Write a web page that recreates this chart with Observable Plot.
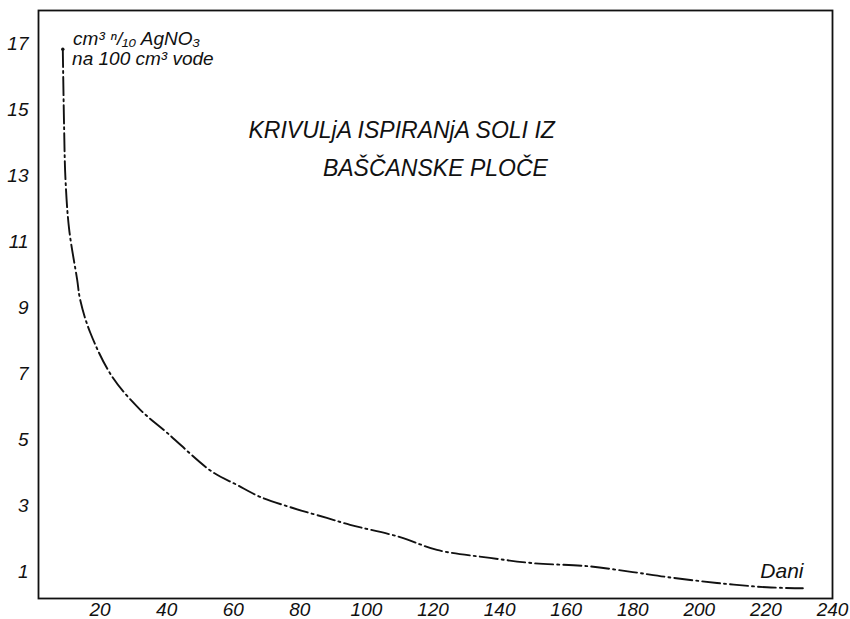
<!DOCTYPE html>
<html><head><meta charset="utf-8">
<script src="https://cdn.jsdelivr.net/npm/d3@7"></script>
<script src="https://cdn.jsdelivr.net/npm/@observablehq/plot@0.6"></script>
<style>body{margin:0;background:#fff} svg{display:block}</style>
</head><body><div id="chart"></div>
<script>
const days   = [8.8, 9.2, 9.6, 10.7, 13.1, 14.0, 17.0, 23.6, 32.0, 40.1, 53.6, 61.1, 68.0, 77.9, 88.1, 95.1, 110.1, 121.2, 137.1, 150.0, 166.2, 180.0, 190.3, 205.3, 220.3, 231.1];
const values = [16.83, 14.42, 12.90, 11.38, 9.86, 9.25, 8.26, 6.92, 5.92, 5.22, 4.04, 3.64, 3.28, 2.94, 2.64, 2.43, 2.06, 1.67, 1.43, 1.27, 1.18, 1.00, 0.85, 0.67, 0.54, 0.51];
const xTicks = [20, 40, 60, 80, 100, 120, 140, 160, 180, 200, 220, 240];
const yTicks = [1, 3, 5, 7, 9, 11, 13, 15, 17];
const titleLines = ["KRIVULjA ISPIRANjA SOLI IZ", "BAŠČANSKE PLOČE"];
const unitLines = ["cm³ ⁿ/₁₀ AgNO₃", "na 100 cm³ vode"];
const xLabel = "Dani";

const data = days.map((d, i) => ({day: d, value: values[i]}));
const font = "'Liberation Sans', 'DejaVu Sans', sans-serif";

const chart = Plot.plot({
  width: 850, height: 619,
  marginLeft: 38, marginRight: 18, marginTop: 10, marginBottom: 21,
  style: {fontFamily: font, fontStyle: "italic", background: "#fff", color: "#111"},
  x: {domain: [1.5, 240]},
  y: {domain: [0.2, 18]},
  marks: [
    Plot.frame({stroke: "#111", strokeWidth: 1.8}),
    Plot.axisX(xTicks, {tickSize: 0, tickPadding: 4, fontSize: 19, label: null}),
    Plot.axisY(yTicks, {tickSize: 0, tickPadding: 10, fontSize: 19, label: null}),
    Plot.line(data, {x: "day", y: "value", curve: "catmull-rom", stroke: "#111", strokeWidth: 1.9, strokeDasharray: "18,4,2,4"}),
    Plot.dot(data.slice(0, 1), {x: "day", y: "value", r: 1.7, fill: "#111"}),
    Plot.text([titleLines[0]], {x: 156.6, y: 14.36, text: d => d, textAnchor: "end", fontSize: 23, fontStyle: "italic", letterSpacing: "0.5px"}),
    Plot.text([titleLines[1]], {x: 154.5, y: 13.2, text: d => d, textAnchor: "end", fontSize: 23, fontStyle: "italic", letterSpacing: "0.5px"}),
    Plot.text([unitLines[0]], {x: 11.9, y: 17.15, text: d => d, textAnchor: "start", fontSize: 19, fontStyle: "italic"}),
    Plot.text([unitLines[1]], {x: 11.6, y: 16.54, text: d => d, textAnchor: "start", fontSize: 19, fontStyle: "italic"}),
    Plot.text([xLabel], {x: 224.8, y: 1.02, text: d => d, fontSize: 21, fontStyle: "italic"})
  ]
});
document.getElementById("chart").append(chart);
</script>
</body></html>
